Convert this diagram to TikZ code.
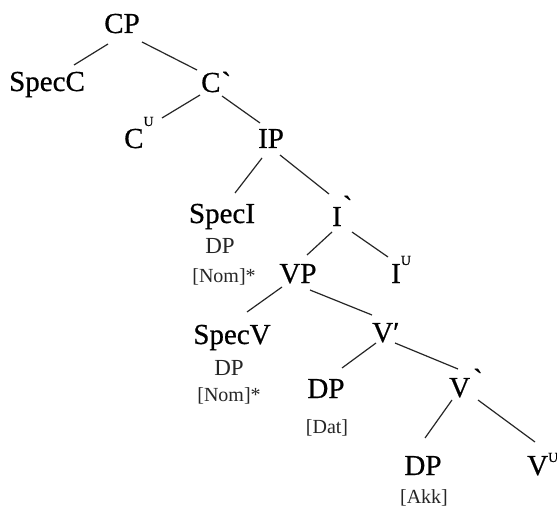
\documentclass[tikz,border=0pt]{standalone}
\usepackage{fontspec}
\newfontfamily\tms{Liberation Serif}
\newfontfamily\tmsb{Liberation Serif}[FakeBold=0.6]
\usetikzlibrary{calc}
\newcommand\supU[1]{\raisebox{#1pt}{\fontsize{14}{14}\selectfont U}}
\newcommand\gtick[2]{\kern#1pt\raisebox{#2pt}{`}}
\tikzset{
  big/.style={inner sep=0pt, font=\tmsb\fontsize{29}{29}\selectfont, text=black},
  mid/.style={inner sep=0pt, font=\tms\fontsize{23}{23}\selectfont, text=black!85},
  small/.style={inner sep=0pt, font=\tms\fontsize{20}{20}\selectfont, text=black!85},
  edge/.style={line width=1.2pt, draw=black!85}
}
\begin{document}
\begin{tikzpicture}[x=1pt,y=-1pt]
\useasboundingbox[fill=white] (0,0) rectangle (557,508);
% nodes
\node[big,anchor=base] (CP) at (122,33) {CP};
\node[big,anchor=base] (SpecC) at (47,91) {SpecC};
\node[big,anchor=base west] (Cbar) at (201,92) {C\gtick{1}{0}};
\node[big,anchor=base west] (C0) at (124,148) {C\supU{22}};
\node[big,anchor=base] (IP) at (271,148) {IP};
\node[big,anchor=base] (SpecI) at (222,223) {SpecI};
\node[mid,anchor=base] (SpecIdp) at (220,253) {DP};
\node[small,anchor=base] (SpecIcase) at (224,282) {[Nom]*};
\node[big,anchor=base west] (Ibar) at (332,226) {I\gtick{1}{10}};
\node[big,anchor=base] (VP) at (298,283) {VP};
\node[big,anchor=base west] (I0) at (391,283) {I\supU{18}};
\node[big,anchor=base] (SpecV) at (232,344) {SpecV};
\node[mid,anchor=base] (SpecVdp) at (229,375) {DP};
\node[small,anchor=base] (SpecVcase) at (229,401) {[Nom]*};
\node[big,anchor=base west] (Vbar) at (372,342) {V′};
\node[big,anchor=base] (DPdat) at (326,398) {DP};
\node[small,anchor=base] (Dat) at (327,433) {[Dat]};
\node[big,anchor=base west] (Vbar2) at (449,397) {V\gtick{3}{8}};
\node[big,anchor=base] (DPakk) at (423,475) {DP};
\node[small,anchor=base] (Akk) at (424,503) {[Akk]};
\node[big,anchor=base west] (V0) at (527,475) {V\supU{13}};
% edges
\draw[edge] ($(CP.base)+(-14,11)$) -- ($(SpecC.base)+(27,-26)$);
\draw[edge] ($(CP.base)+(20,9)$) -- ($(Cbar.base west)+(-4,-22)$);
\draw[edge] ($(Cbar.base west)+(-1,3)$) -- ($(C0.base west)+(38,-30)$);
\draw[edge] ($(Cbar.base west)+(21,4)$) -- ($(IP.base)+(-11,-25)$);
\draw[edge] ($(IP.base)+(-9,10)$) -- ($(SpecI.base)+(13,-30)$);
\draw[edge] ($(IP.base)+(9,7)$) -- ($(Ibar.base west)+(-3,-32)$);
\draw[edge] ($(Ibar.base west)+(0,6)$) -- ($(VP.base)+(9,-28)$);
\draw[edge] ($(Ibar.base west)+(20,6)$) -- ($(I0.base west)+(-3,-26)$);
\draw[edge] ($(VP.base)+(-16,4)$) -- ($(SpecV.base)+(15,-32)$);
\draw[edge] ($(VP.base)+(12,7)$) -- ($(Vbar.base west)+(0,-27)$);
\draw[edge] ($(Vbar.base west)+(4,1)$) -- ($(DPdat.base)+(16,-30)$);
\draw[edge] ($(Vbar.base west)+(23,1)$) -- ($(Vbar2.base west)+(9,-28)$);
\draw[edge] ($(Vbar2.base west)+(3,3)$) -- ($(DPakk.base)+(2,-37)$);
\draw[edge] ($(Vbar2.base west)+(29,3)$) -- ($(V0.base west)+(8,-33)$);
\end{tikzpicture}
\end{document}
